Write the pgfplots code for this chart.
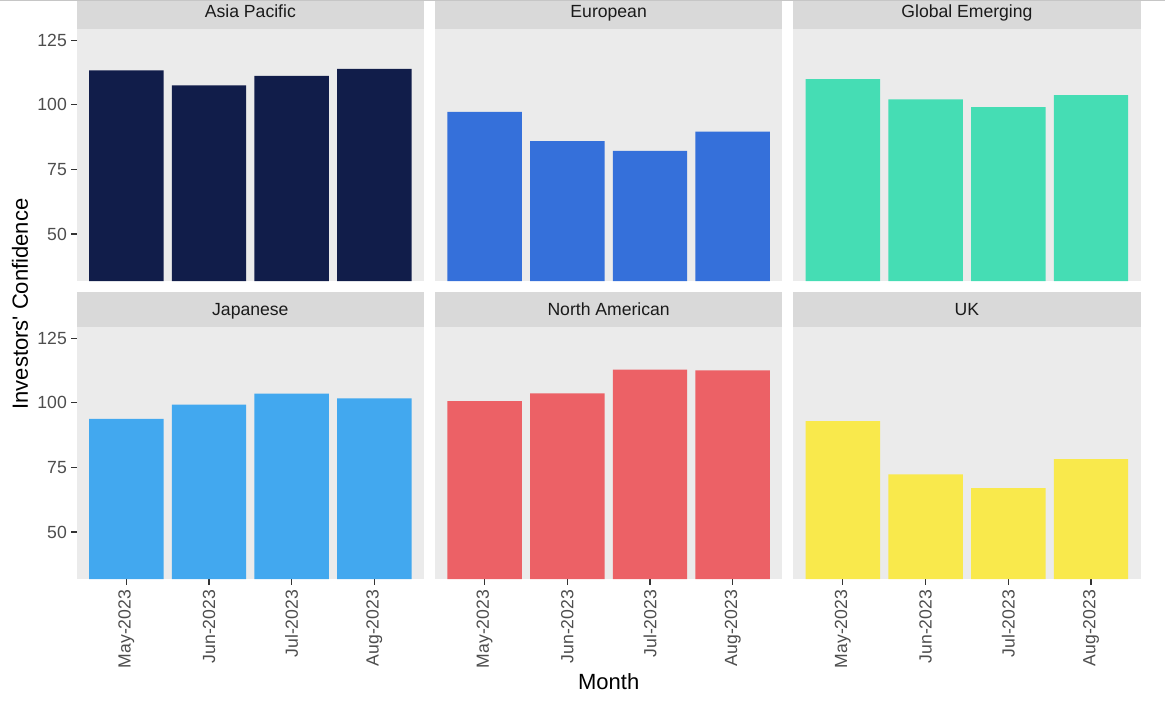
\documentclass[border=0pt]{standalone}
\usepackage{fontspec}
\setmainfont{Liberation Sans}[Ligatures=TeXOff]
\usepackage{pgfplots}
\pgfplotsset{compat=1.18}

\definecolor{panelgray}{HTML}{EBEBEB}
\definecolor{stripgray}{HTML}{D9D9D9}
\definecolor{gray30}{HTML}{4D4D4D}
\definecolor{gray10}{HTML}{1A1A1A}
\definecolor{tickgray}{HTML}{333333}
\definecolor{cAP}{HTML}{111D4A}
\definecolor{cEU}{HTML}{3570DA}
\definecolor{cGE}{HTML}{45DDB4}
\definecolor{cJP}{HTML}{42A8EF}
\definecolor{cNA}{HTML}{EC6166}
\definecolor{cUK}{HTML}{F9E94C}

\pgfplotsset{
  every axis title shift=0pt,
  panel/.style={
    scale only axis, width=173.65pt, height=126pt, anchor=south west,
    xmin=0.4, xmax=4.6, ymin=31.8, ymax=129.3,
    ybar, bar width=0.9, bar shift=0pt,
    axis background/.style={fill=panelgray},
    axis x line*=bottom, axis y line*=left,
    axis line style={draw=none},
    tick align=outside, major tick length=2.75pt,
    tick style={draw=tickgray, line width=0.55pt},
    ytick={50,75,100,125}, xtick={1,2,3,4},
    ticklabel style={font=\fontsize{8.8}{10}\selectfont, text=gray30},
    /pgf/number format/assume math mode=true,
    yticklabel style={inner sep=2pt},
    xticklabel style={rotate=90, anchor=east, inner sep=2.5pt},
    title style={at={(0.5,1)}, anchor=south, fill=stripgray, inner sep=0pt, outer sep=0pt,
      minimum width=173.65pt, minimum height=17.35pt, text=gray10,
      text height=6.3pt, text depth=0pt,
      font=\fontsize{8.8}{10}\selectfont},
  },
  nox/.style={xtick=\empty},
  noy/.style={ytick=\empty},
  months/.style={xticklabels={May-2023,Jun-2023,Jul-2023,Aug-2023}},
}

\begin{document}
\begin{tikzpicture}
\useasboundingbox (0,0) rectangle (582.5pt,351.5pt);
\clip (0,0) rectangle (582.5pt,351.5pt);

% top row
\begin{axis}[panel, nox, at={(38.35pt,211pt)}, title={Asia Pacific}]
\addplot[fill=cAP, draw=none] coordinates {(1,113.3) (2,107.5) (3,111.2) (4,113.9)};
\end{axis}
\begin{axis}[panel, nox, noy, at={(217.5pt,211pt)}, title={European}]
\addplot[fill=cEU, draw=none] coordinates {(1,97.2) (2,85.9) (3,82.1) (4,89.6)};
\end{axis}
\begin{axis}[panel, nox, noy, at={(396.65pt,211pt)}, title={Global Emerging}]
\addplot[fill=cGE, draw=none] coordinates {(1,109.9) (2,102.1) (3,99.1) (4,103.7)};
\end{axis}

% bottom row
\begin{axis}[panel, months, at={(38.35pt,62pt)}, title={Japanese}]
\addplot[fill=cJP, draw=none] coordinates {(1,93.8) (2,99.3) (3,103.5) (4,101.7)};
\end{axis}
\begin{axis}[panel, months, noy, at={(217.5pt,62pt)}, title={North American}]
\addplot[fill=cNA, draw=none] coordinates {(1,100.6) (2,103.6) (3,112.8) (4,112.5)};
\end{axis}
\begin{axis}[panel, months, noy, at={(396.65pt,62pt)}, title={UK}]
\addplot[fill=cUK, draw=none] coordinates {(1,92.9) (2,72.3) (3,67.0) (4,78.2)};
\end{axis}

\draw[gray!45, line width=0.8pt] (0,351.2pt) -- (582.5pt,351.2pt);
\node[rotate=90, font=\fontsize{11}{13}\selectfont] at (10pt,199.5pt) {Investors' Confidence};
\node[font=\fontsize{11}{13}\selectfont] at (304.35pt,10.5pt) {Month};
\end{tikzpicture}
\end{document}
